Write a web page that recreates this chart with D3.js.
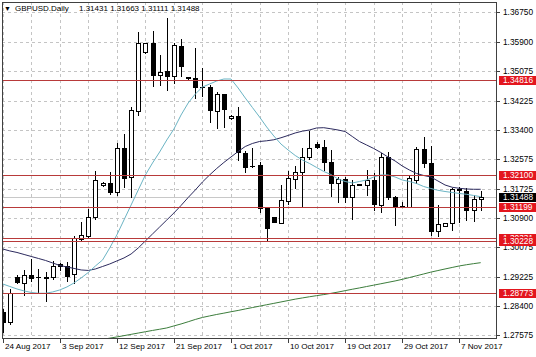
<!DOCTYPE html>
<html><head><meta charset="utf-8">
<script src="https://cdn.jsdelivr.net/npm/d3@7"></script>
<style>body{margin:0;background:#fff;} svg{display:block;} text{font-family:"Liberation Sans",Arial,sans-serif;}</style>
</head><body><svg id="c" width="536" height="357"></svg>
<script>
// ---------- DATA ----------
const symbol = "GBPUSD.Daily";
const dates = ["2017-08-24","2017-08-25","2017-08-27","2017-08-28","2017-08-29","2017-08-30","2017-08-31",
"2017-09-01","2017-09-03","2017-09-04","2017-09-05","2017-09-06","2017-09-07","2017-09-08","2017-09-10",
"2017-09-11","2017-09-12","2017-09-13","2017-09-14","2017-09-15","2017-09-17","2017-09-18","2017-09-19",
"2017-09-20","2017-09-21","2017-09-22","2017-09-24","2017-09-25","2017-09-26","2017-09-27","2017-09-28",
"2017-09-29","2017-10-01","2017-10-02","2017-10-03","2017-10-04","2017-10-05","2017-10-06","2017-10-08",
"2017-10-09","2017-10-10","2017-10-11","2017-10-12","2017-10-13","2017-10-15","2017-10-16","2017-10-17",
"2017-10-18","2017-10-19","2017-10-20","2017-10-22","2017-10-23","2017-10-24","2017-10-25","2017-10-26",
"2017-10-27","2017-10-29","2017-10-30","2017-10-31","2017-11-01","2017-11-02","2017-11-03","2017-11-05",
"2017-11-06","2017-11-07","2017-11-08","2017-11-09","2017-11-10"];
const open = [1.28219,1.27935,1.29227,1.29057,1.29270,1.29227,1.29213,1.29213,1.29597,1.29526,1.29298,1.30307,1.30378,1.30932,1.31827,1.31892,1.31636,1.32869,1.32063,1.33938,1.35597,1.35869,1.34952,1.35065,1.34932,1.35776,1.34881,1.34875,1.34625,1.34602,1.33929,1.34403,1.33722,1.33787,1.32744,1.32381,1.32395,1.31165,1.30926,1.30756,1.31381,1.31997,1.32205,1.32614,1.32983,1.32915,1.32480,1.31875,1.31989,1.31494,1.31855,1.31827,1.31969,1.31259,1.32631,1.31494,1.31244,1.31210,1.31969,1.32841,1.32460,1.30528,1.30662,1.30756,1.31713,1.31665,1.31117,1.31431];
const high = [1.28304,1.28872,1.29270,1.29426,1.29739,1.29440,1.29355,1.29682,1.29625,1.29639,1.30392,1.30790,1.31145,1.32239,1.31921,1.32205,1.33011,1.33276,1.34034,1.36165,1.35875,1.36202,1.35520,1.36571,1.35875,1.35966,1.34895,1.35710,1.35142,1.34668,1.34477,1.34412,1.33815,1.34034,1.32801,1.32869,1.32489,1.31193,1.30932,1.31827,1.32233,1.32367,1.32886,1.33369,1.33057,1.33105,1.32821,1.32063,1.32063,1.31969,1.31869,1.32253,1.32159,1.32727,1.32773,1.31514,1.31344,1.32111,1.32915,1.33199,1.32936,1.31259,1.30761,1.31733,1.31761,1.31733,1.31543,1.31663];
const low = [1.27651,1.27878,1.29043,1.28702,1.29100,1.28759,1.28531,1.29171,1.29412,1.29100,1.29043,1.30236,1.30335,1.30875,1.31812,1.31563,1.31543,1.31761,1.31494,1.33815,1.35577,1.34639,1.34668,1.34526,1.34716,1.34923,1.34852,1.34290,1.34356,1.33625,1.33438,1.33466,1.33702,1.32537,1.32205,1.32338,1.31068,1.30244,1.30776,1.30739,1.31287,1.31733,1.31193,1.32557,1.32869,1.32253,1.31514,1.31352,1.31352,1.30861,1.31827,1.31543,1.31117,1.31068,1.31421,1.30690,1.31202,1.31193,1.31875,1.32347,1.30406,1.30378,1.30653,1.30548,1.30784,1.30832,1.30813,1.31111];
const close = [1.27935,1.28759,1.29071,1.29261,1.29185,1.29213,1.29199,1.29526,1.29526,1.29242,1.30335,1.30406,1.30932,1.31969,1.31892,1.31636,1.32869,1.32034,1.33957,1.35852,1.35852,1.34938,1.35051,1.34923,1.35804,1.35216,1.34866,1.34619,1.34611,1.33957,1.34403,1.33977,1.33796,1.32773,1.32347,1.32367,1.31165,1.30597,1.30784,1.31401,1.32017,1.32205,1.32631,1.32869,1.32915,1.32489,1.31892,1.31997,1.31494,1.31827,1.31841,1.31969,1.31287,1.32631,1.31494,1.31210,1.31222,1.32017,1.32841,1.32443,1.30528,1.30719,1.30756,1.31705,1.31699,1.31117,1.31421,1.31488];
// moving averages (fast = light blue, mid = dark navy, slow = green)
const maFast = [1.29016,1.28945,1.28874,1.28818,1.28775,1.28752,1.28752,1.28789,1.28846,1.28931,1.29045,1.29187,1.29343,1.29528,1.29698,1.30039,1.30408,1.30834,1.31260,1.31686,1.32112,1.32453,1.32765,1.33106,1.33418,1.33816,1.34157,1.34412,1.34611,1.34696,1.34782,1.34838,1.34838,1.34583,1.34299,1.34029,1.33759,1.33475,1.33220,1.32992,1.32822,1.32666,1.32538,1.32439,1.32325,1.32211,1.32126,1.31998,1.31927,1.31885,1.31927,1.31970,1.32055,1.32112,1.32112,1.32055,1.31970,1.31927,1.31871,1.31785,1.31729,1.31677,1.31643,1.31615,1.31587,1.31564,1.31530,1.31496];
const maMid = [1.30010,1.29954,1.29911,1.29854,1.29797,1.29741,1.29684,1.29613,1.29542,1.29499,1.29457,1.29414,1.29400,1.29442,1.29513,1.29584,1.29670,1.29755,1.29868,1.30039,1.30238,1.30436,1.30635,1.30834,1.31033,1.31246,1.31473,1.31686,1.31913,1.32112,1.32297,1.32467,1.32623,1.32779,1.32921,1.33007,1.33063,1.33083,1.33112,1.33169,1.33234,1.33305,1.33356,1.33390,1.33447,1.33455,1.33424,1.33390,1.33347,1.33205,1.33063,1.32964,1.32865,1.32751,1.32623,1.32510,1.32368,1.32254,1.32155,1.32098,1.32055,1.31942,1.31828,1.31763,1.31734,1.31714,1.31706,1.31706];
const maSlow = [null,null,null,null,null,null,null,null,null,null,null,null,1.27369,1.27403,1.27440,1.27477,1.27511,1.27548,1.27585,1.27622,1.27659,1.27696,1.27730,1.27767,1.27824,1.27880,1.27943,1.28008,1.28065,1.28108,1.28150,1.28187,1.28227,1.28264,1.28306,1.28346,1.28386,1.28426,1.28465,1.28505,1.28545,1.28585,1.28619,1.28653,1.28684,1.28715,1.28749,1.28786,1.28826,1.28866,1.28903,1.28943,1.28982,1.29022,1.29062,1.29102,1.29147,1.29198,1.29249,1.29300,1.29352,1.29397,1.29442,1.29485,1.29528,1.29562,1.29593,1.29621];
const levels = [1.34816,1.32100,1.31199,1.30331,1.30228,1.28773];
const yTicks = [1.36750,1.35900,1.35075,1.34225,1.33400,1.32575,1.31725,1.30900,1.30075,1.29225,1.28400,1.27575];
const xTickDates = ["2017-08-24","2017-09-03","2017-09-12","2017-09-21","2017-10-01","2017-10-10","2017-10-19","2017-10-29","2017-11-07"];
const xTickLabels = ["24 Aug 2017","3 Sep 2017","12 Sep 2017","21 Sep 2017","1 Oct 2017","10 Oct 2017","19 Oct 2017","29 Oct 2017","7 Nov 2017"];

// ---------- CHART ----------
const svg = d3.select("#c");
const L = 2, T = 2, R = 496, B = 338;
const x = d3.scalePoint().domain(dates).range([2.7, 480.7]);
const y = d3.scaleLinear().domain([1.27575, 1.36750]).range([334.7, 11.7]);
const fmt = d3.format(".5f");
const snap = v => Math.round(v) + 0.5;

svg.append("rect").attr("width", 536).attr("height", 357).attr("fill", "#fff");
svg.append("clipPath").attr("id", "clip").append("rect")
  .attr("x", L).attr("y", T).attr("width", R - L).attr("height", B - T);
const g = svg.append("g").attr("clip-path", "url(#clip)");

// grid
g.selectAll(".hg").data(yTicks).join("line")
  .attr("x1", L).attr("x2", R).attr("y1", d => snap(y(d))).attr("y2", d => snap(y(d)))
  .attr("stroke", "#c4c4c4").attr("stroke-dasharray", "3,3");
const vg = dates.filter((d, i) => i % 4 === 0);
g.selectAll(".vg").data(vg).join("line")
  .attr("x1", d => snap(x(d))).attr("x2", d => snap(x(d))).attr("y1", T).attr("y2", B)
  .attr("stroke", "#c4c4c4").attr("stroke-dasharray", "3,3");

// bid line
const last = close[close.length - 1];
g.append("line").attr("x1", L).attr("x2", R).attr("y1", snap(y(last))).attr("y2", snap(y(last)))
  .attr("stroke", "#c8c8c8");

// candles
const idx = d3.range(dates.length);
const cg = g.append("g");
idx.forEach(i => {
  const cx = Math.round(x(dates[i]));
  const o = open[i], c = close[i];
  cg.append("line").attr("x1", cx + 0.5).attr("x2", cx + 0.5)
    .attr("y1", Math.round(y(high[i]))).attr("y2", Math.round(y(low[i])) + 1)
    .attr("stroke", "#000");
  const top = Math.round(y(Math.max(o, c))), bot = Math.round(y(Math.min(o, c)));
  if (bot - top < 1) {
    cg.append("line").attr("x1", cx - 2).attr("x2", cx + 3).attr("y1", top + 0.5).attr("y2", top + 0.5).attr("stroke", "#000");
  } else {
    cg.append("rect").attr("x", cx - 1.5).attr("y", top + 0.5).attr("width", 4).attr("height", bot - top)
      .attr("fill", c >= o ? "#fff" : "#000").attr("stroke", "#000");
  }
});

// moving averages
const mkLine = arr => d3.line().defined(d => d != null).x((d, i) => x(dates[i])).y(d => y(d))(arr);
g.append("path").attr("d", mkLine(maSlow)).attr("fill", "none").attr("stroke", "#3c7d3c").attr("stroke-width", 1);
g.append("path").attr("d", mkLine(maMid)).attr("fill", "none").attr("stroke", "#2c2a5e").attr("stroke-width", 1);
g.append("path").attr("d", mkLine(maFast)).attr("fill", "none").attr("stroke", "#6bb4c4").attr("stroke-width", 1);

// level lines
g.selectAll(".lv").data(levels).join("line")
  .attr("x1", L).attr("x2", R).attr("y1", d => snap(y(d))).attr("y2", d => snap(y(d)))
  .attr("stroke", "#b83a3a");

// frame
svg.append("rect").attr("x", L + 0.5).attr("y", T + 0.5).attr("width", R - L).attr("height", B - T)
  .attr("fill", "none").attr("stroke", "#404040");

// y axis
const ya = svg.append("g");
yTicks.forEach(t => {
  const yy = snap(y(t));
  ya.append("line").attr("x1", R).attr("x2", R + 4).attr("y1", yy).attr("y2", yy).attr("stroke", "#404040");
  ya.append("text").attr("x", 503).attr("y", yy).attr("dy", "0.35em").attr("font-size", "8.3px").attr("fill", "#000").text(fmt(t));
});
// level labels
levels.forEach(v => {
  const yy = Math.round(y(v));
  ya.append("rect").attr("x", 499).attr("y", yy - 4).attr("width", 37).attr("height", 9).attr("fill", "#e3161e");
  ya.append("text").attr("x", 503).attr("y", yy + 0.5).attr("dy", "0.35em").attr("font-size", "8.3px").attr("fill", "#fff").text(fmt(v));
});
{
  const yy = Math.round(y(last));
  ya.append("rect").attr("x", 499).attr("y", yy - 4).attr("width", 37).attr("height", 9).attr("fill", "#000");
  ya.append("text").attr("x", 503).attr("y", yy + 0.5).attr("dy", "0.35em").attr("font-size", "8.3px").attr("fill", "#fff").text(fmt(last));
}

// x axis
const xa = svg.append("g");
xTickDates.forEach((d, k) => {
  const xx = snap(x(d));
  xa.append("line").attr("x1", xx).attr("x2", xx).attr("y1", B).attr("y2", B + 5).attr("stroke", "#404040");
  xa.append("text").attr("x", xx + 1.5).attr("y", 349).attr("font-size", "8.1px").attr("fill", "#000").text(xTickLabels[k]);
});

// title
const n = dates.length - 1;
svg.append("text").attr("x", 4).attr("y", 10.5).attr("font-size", "7px").attr("font-family", "DejaVu Sans").attr("fill", "#000").text("\u25BC");
svg.append("text").attr("x", 15).attr("y", 11).attr("font-size", "8px").attr("fill", "#000").text(symbol);
svg.append("text").attr("x", 79).attr("y", 11).attr("font-size", "8px").attr("fill", "#000")
  .text([open[n], high[n], low[n], close[n]].map(fmt).join(" "));
</script></body></html>
